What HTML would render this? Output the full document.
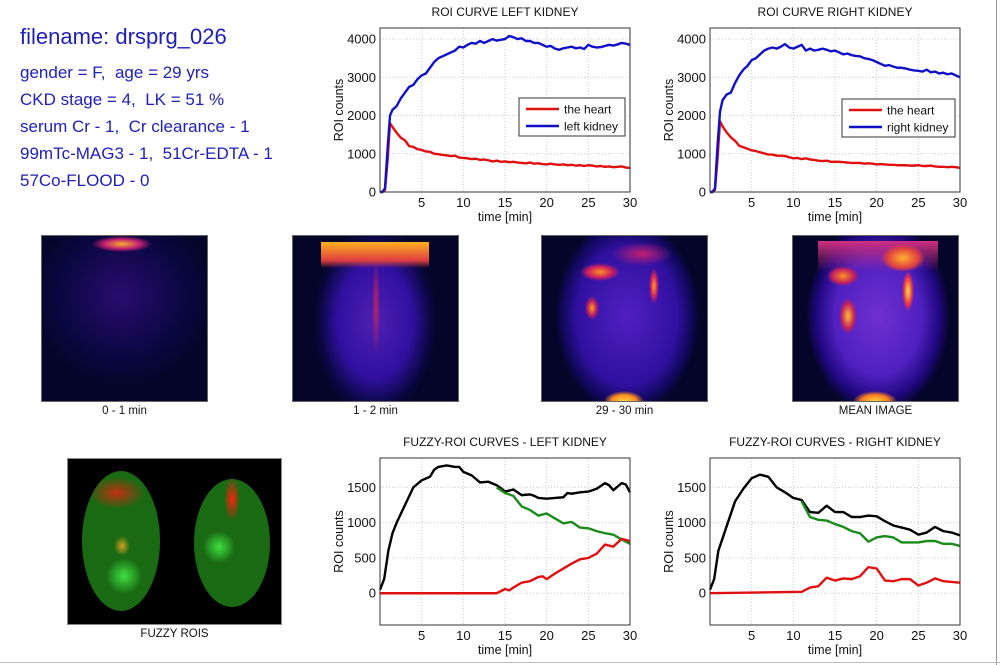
<!DOCTYPE html>
<html><head><meta charset="utf-8"><style>
body{margin:0;background:#fff;width:1000px;height:665px;overflow:hidden;position:relative;font-family:"Liberation Sans",sans-serif}
.info{position:absolute;left:20px;color:#2020b8;font-size:17px;white-space:nowrap}
.img{position:absolute;background:#05052a;border:1px solid #666;box-sizing:border-box;overflow:hidden}
.cap{position:absolute;font-size:11.5px;text-align:center;color:#111}
svg{position:absolute;left:0;top:0}
</style></head><body>
<div class="info" style="top:24px;font-size:22px">filename: drsprg_026</div>
<div class="info" style="top:63px">gender = F,&nbsp; age = 29 yrs</div>
<div class="info" style="top:90px">CKD stage = 4,&nbsp; LK = 51 %</div>
<div class="info" style="top:117px">serum Cr - 1,&nbsp; Cr clearance - 1</div>
<div class="info" style="top:144px">99mTc-MAG3 - 1,&nbsp; 51Cr-EDTA - 1</div>
<div class="info" style="top:171px">57Co-FLOOD - 0</div>

<div class="img" style="left:41px;top:235px;width:167px;height:167px;background:radial-gradient(ellipse 30px 8px at 80px 8px,#f7b030,#c02070 60%,transparent 100%),radial-gradient(ellipse 90px 90px at 80px 60px,#2a0c70,#0a0740 70%,#05052a)"></div>
<div class="cap" style="left:41px;top:405px;width:167px">0 - 1 min</div>
<div class="img" style="left:292px;top:235px;width:167px;height:167px;background:linear-gradient(#ffb020,#e04040 70%,transparent) 28px 6px/108px 26px no-repeat,radial-gradient(ellipse 4px 50px at 83px 70px,#c02060,transparent) ,radial-gradient(ellipse 62px 95px at 82px 85px,#5020b0,#3010a0 60%,#0a0740 90%,#05052a)"></div>
<div class="cap" style="left:292px;top:405px;width:167px">1 - 2 min</div>
<div class="img" style="left:541px;top:235px;width:167px;height:167px;background:radial-gradient(ellipse 20px 9px at 58px 36px,#ff9020,#d02060 60%,transparent),radial-gradient(ellipse 5px 18px at 112px 50px,#ffa020,#d02060 60%,transparent),radial-gradient(ellipse 7px 12px at 50px 72px,#ffa020,#c02060 60%,transparent),radial-gradient(ellipse 20px 10px at 82px 165px,#ffd040,#ff9020 60%,transparent),radial-gradient(ellipse 30px 12px at 100px 18px,#c02070,transparent),radial-gradient(ellipse 72px 98px at 85px 80px,#5020c0,#3010a0 70%,#10085a 90%,#05052a)"></div>
<div class="cap" style="left:541px;top:405px;width:167px">29 - 30 min</div>
<div class="img" style="left:792px;top:235px;width:167px;height:167px;background:radial-gradient(ellipse 22px 14px at 110px 22px,#ffb030,#e04040 70%,transparent),radial-gradient(ellipse 16px 10px at 50px 40px,#ff9020,#c02060 70%,transparent),radial-gradient(ellipse 6px 20px at 115px 55px,#ffe040,#e03050 70%,transparent),radial-gradient(ellipse 9px 18px at 55px 80px,#ffc030,#c02060 70%,transparent),radial-gradient(ellipse 22px 10px at 82px 165px,#ffd040,#ff8020 60%,transparent),linear-gradient(#d03080,transparent) 25px 5px/120px 30px no-repeat,radial-gradient(ellipse 72px 98px at 85px 80px,#7030d0,#5020c0 60%,#200880 85%,#05052a)"></div>
<div class="cap" style="left:792px;top:405px;width:167px">MEAN IMAGE</div>
<div class="img" style="left:67px;top:458px;width:215px;height:167px;background:#000;border-color:#888">
 <div style="position:absolute;left:14px;top:12px;width:78px;height:140px;border-radius:50%;background:radial-gradient(ellipse 28px 16px at 35px 22px,#c03010,transparent),radial-gradient(ellipse 8px 10px at 40px 75px,#d0a020,transparent),radial-gradient(ellipse 18px 18px at 42px 105px,#40e040,transparent),#1a6a14"></div>
 <div style="position:absolute;left:126px;top:20px;width:76px;height:128px;border-radius:50%;background:radial-gradient(ellipse 8px 22px at 38px 20px,#ff2010,transparent),radial-gradient(ellipse 16px 16px at 25px 68px,#40e040,transparent),#1a6a14"></div>
</div>
<div class="cap" style="left:67px;top:628px;width:215px">FUZZY ROIS</div>
<div style="position:absolute;left:996px;top:0;width:1px;height:665px;background:#999"></div>
<div style="position:absolute;left:0;top:662px;width:1000px;height:1px;background:#bbb"></div>

<svg id="svg" width="1000" height="665"></svg>
<script>
// ROI curve data
const tTop = [0,0.3,0.6,0.9,1.2,1.5,2,2.5,3,3.5,4,4.5,5,5.5,6,6.5,7,7.5,8,8.5,9,9.5,10,10.5,11,11.5,12,12.5,13,13.5,14,14.5,15,15.5,16,16.5,17,17.5,18,18.5,19,19.5,20,20.5,21,21.5,22,22.5,23,23.5,24,24.5,25,25.5,26,26.5,27,27.5,28,28.5,29,29.5,30];
const heartL = [0,0,50,800,1800,1700,1550,1420,1350,1200,1180,1120,1100,1060,1050,1000,990,970,960,940,950,900,890,880,860,870,840,850,830,800,820,790,800,780,790,770,760,750,770,740,750,730,720,740,720,710,720,700,710,690,700,680,700,690,670,680,660,670,650,660,670,640,630];
const kidneyL = [0,0,100,1100,2000,2150,2250,2450,2600,2750,2800,2950,3050,3100,3250,3400,3500,3550,3600,3650,3700,3800,3780,3850,3900,3880,3950,3900,3950,4000,3960,3980,4000,4080,4050,4000,4020,3950,3950,3900,3900,3850,3800,3820,3750,3720,3760,3780,3800,3760,3780,3740,3850,3800,3780,3790,3820,3850,3830,3860,3900,3880,3850];
const heartR = [0,0,60,850,1850,1720,1560,1430,1340,1210,1170,1130,1090,1070,1040,1010,980,980,950,950,940,910,880,890,860,880,850,840,820,810,820,790,790,790,780,770,760,760,760,740,750,740,720,730,720,710,710,700,700,700,690,690,700,680,680,690,670,660,660,650,660,650,630];
const kidneyR = [0,0,100,1200,2100,2400,2550,2600,2850,3050,3200,3300,3450,3500,3600,3700,3750,3780,3750,3800,3870,3780,3750,3800,3850,3700,3750,3700,3720,3750,3720,3680,3700,3650,3600,3620,3580,3560,3550,3500,3480,3450,3400,3350,3300,3320,3280,3250,3250,3230,3200,3180,3170,3150,3200,3130,3150,3100,3120,3080,3100,3050,3000];
// Fuzzy ROI data
const tFL = [0,0.5,1,1.5,2,3,4,5,6,6.5,7,8,9,9.5,10,11,12,13,14,14.5,15,16,17,18,18.5,19,20,21,22,22.5,23,24,25,26,27,27.5,28,29,29.5,30];
const blackL = [50,200,600,850,1000,1250,1500,1600,1650,1750,1790,1810,1790,1790,1720,1670,1570,1580,1530,1490,1440,1470,1390,1400,1380,1350,1340,1350,1360,1420,1410,1430,1440,1480,1560,1530,1460,1560,1540,1430];
const tGL = [14,15,16,17,18,19,20,21,22,23,24,25,26,27,28,29,30];
const greenL = [1500,1420,1380,1230,1180,1100,1130,1060,990,1010,930,920,880,850,830,760,700];
const tRL = [0,13,14,14.5,15,15.5,16,17,18,19,19.5,20,21,22,23,24,25,26,27,28,29,30];
const redL = [0,0,0,30,60,40,80,150,170,230,240,200,280,350,420,480,500,560,690,660,770,740];
const tFR = [0,0.5,1,2,3,4,5,6,7,8,9,10,11,12,13,14,15,16,17,18,19,20,21,22,23,24,25,26,27,28,29,30];
const blackR = [50,200,600,950,1300,1480,1630,1680,1650,1500,1430,1350,1320,1150,1140,1240,1150,1150,1080,1080,1100,1090,1020,960,930,900,830,860,940,880,860,820];
const tGR = [11,12,13,14,15,16,17,18,19,20,21,22,23,24,25,26,27,28,29,30];
const greenR = [1300,1080,1040,1030,980,940,880,850,730,790,810,790,720,720,720,740,740,700,700,670];
const tRR = [0,11,12,13,14,15,16,17,18,19,20,21,22,23,24,25,26,27,28,29,30];
const redR = [0,20,80,100,220,180,210,200,240,370,350,180,170,200,200,110,150,210,170,160,150];
const xTicks = [5,10,15,20,25,30];
const yTicksTop = [0,1000,2000,3000,4000];
const yTicksBot = [0,500,1000,1500];

const NS='http://www.w3.org/2000/svg';
const svg=document.getElementById('svg');
function mk(tag,attrs,parent){const e=document.createElementNS(NS,tag);for(const k in attrs)e.setAttribute(k,attrs[k]);(parent||svg).appendChild(e);return e;}
function chart(name,x0,y0,w,h,ymin,ymax,yTicks,title,series,legend){
  const g=mk('g',{});
  
  
  const sx=v=>x0+v/30*w, sy=v=>y0+h-(v-ymin)/(ymax-ymin)*h;
  mk('rect',{x:x0,y:y0,width:w,height:h,fill:'#fff'},g);
  xTicks.forEach(t=>{mk('line',{x1:sx(t),x2:sx(t),y1:y0,y2:y0+h,stroke:'#ccc','stroke-dasharray':'1,2'},g);
    const tx=mk('text',{x:sx(t),y:y0+h+15,'text-anchor':'middle','font-size':13,fill:'#111'},g);tx.textContent=t;
    
    });
  yTicks.forEach(t=>{mk('line',{x1:x0,x2:x0+w,y1:sy(t),y2:sy(t),stroke:'#ccc','stroke-dasharray':'1,2'},g);
    const tx=mk('text',{x:x0-4,y:sy(t)+4.5,'text-anchor':'end','font-size':13,fill:'#111'},g);tx.textContent=t;
    
    });
  series.forEach(s=>{const p=mk('polyline',{points:s.t.map((t,i)=>sx(t)+','+sy(s.v[i])).join(' '),fill:'none',stroke:s.c,'stroke-width':2.4,'stroke-linejoin':'round'},g);
    
    });
  mk('rect',{x:x0,y:y0,width:w,height:h,fill:'none',stroke:'#333','stroke-width':1},g);
  const tt=mk('text',{x:x0+w/2,y:y0-12,'text-anchor':'middle','font-size':12,fill:'#111'},g);tt.textContent=title;
  
  
  const xl=mk('text',{x:x0+w/2,y:y0+h+29,'text-anchor':'middle','font-size':12.5,fill:'#111'},g);xl.textContent='time [min]';
  
  
  const yl=mk('text',{x:0,y:0,'text-anchor':'middle','font-size':12.5,fill:'#111',transform:`translate(${x0-37},${y0+h/2}) rotate(-90)`},g);yl.textContent='ROI counts';
  
  
  if(legend){const lg=mk('g',{},g);
    
    
    mk('rect',{x:legend.x,y:legend.y,width:legend.w,height:38,fill:'#fff',stroke:'#333'},lg);
    legend.items.forEach((it,i)=>{const yy=legend.y+11+i*17;
      mk('line',{x1:legend.x+7,x2:legend.x+40,y1:yy,y2:yy,stroke:it.c,'stroke-width':2.4},lg);
      const lt=mk('text',{x:legend.x+45,y:yy+4.5,'font-size':12,fill:'#111'},lg);lt.textContent=it.n;
      
      });}
}
chart('roi-curve-left-kidney',380,28,250,164,0,4290,yTicksTop,'ROI CURVE LEFT KIDNEY',
 [{t:tTop,v:heartL,c:'#e01010',n:'heart-line'},{t:tTop,v:kidneyL,c:'#1010c8',n:'left-kidney-line'}],
 {x:519,y:98,w:106,items:[{n:'the heart',c:'#e01010'},{n:'left kidney',c:'#1010c8'}]});
chart('roi-curve-right-kidney',710,28,250,164,0,4290,yTicksTop,'ROI CURVE RIGHT KIDNEY',
 [{t:tTop,v:heartR,c:'#e01010',n:'heart-line'},{t:tTop,v:kidneyR,c:'#1010c8',n:'right-kidney-line'}],
 {x:842,y:99,w:113,items:[{n:'the heart',c:'#e01010'},{n:'right kidney',c:'#1010c8'}]});
chart('fuzzy-roi-left-kidney',380,458,250,167,-450,1916,yTicksBot,'FUZZY-ROI CURVES - LEFT KIDNEY',
 [{t:tFL,v:blackL,c:'#000',n:'total-line'},{t:tGL,v:greenL,c:'#1a8a1a',n:'green-line'},{t:tRL,v:redL,c:'#e01010',n:'red-line'}]);
chart('fuzzy-roi-right-kidney',710,458,250,167,-450,1916,yTicksBot,'FUZZY-ROI CURVES - RIGHT KIDNEY',
 [{t:tFR,v:blackR,c:'#000',n:'total-line'},{t:tGR,v:greenR,c:'#1a8a1a',n:'green-line'},{t:tRR,v:redR,c:'#e01010',n:'red-line'}]);
</script>
</body></html>
